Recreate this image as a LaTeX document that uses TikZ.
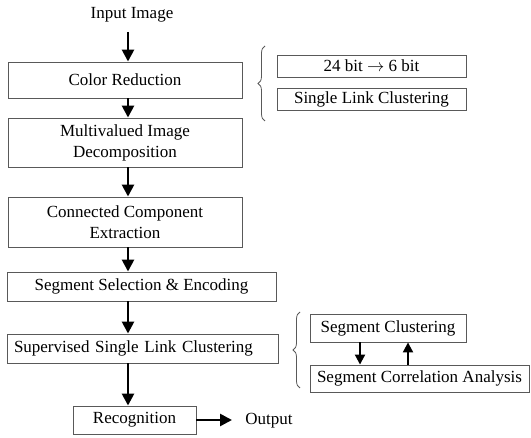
\documentclass[tikz,border=0pt]{standalone}
\usepackage{fontspec}
\setmainfont{Liberation Serif}
\usetikzlibrary{arrows.meta,decorations.pathreplacing}
\definecolor{boxgray}{gray}{0.35}
\newcommand{\fs}{\fontsize{17}{21}\selectfont}
\tikzset{
  box/.style={draw=boxgray, line width=0.9pt, inner sep=0pt, align=center, font=\fs},
  lbl/.style={inner sep=0pt, font=\fs},
  arr/.style={line width=2.6pt, -{Triangle[length=12pt,width=12pt]}},
  sarr/.style={line width=2pt, -{Triangle[length=10pt,width=10pt]}},
  brc/.style={draw=boxgray, line width=0.8pt, decorate, decoration={brace, amplitude=7pt}}
}
\begin{document}
\begin{tikzpicture}[x=1pt, y=-1pt]
\useasboundingbox (0,0) rectangle (531,438);
\node[lbl] (in) at (132,15) {Input Image};
\node[box, minimum width=234pt, minimum height=36pt] (color) at (125,80) {Color Reduction};
\node[box, minimum width=234pt, minimum height=49pt] (multi) at (125,142.5) {Multivalued Image\\Decomposition};
\node[box, minimum width=234pt, minimum height=50pt] (conn) at (125,222) {Connected Component\\Extraction};
\node[box, minimum width=269pt, minimum height=29pt] (segsel) at (141.5,286.5) {Segment Selection \& Encoding};
\node[box, minimum width=271pt, minimum height=29pt, text width=257pt, inner xsep=7pt, align=left] (superv) at (142.5,348.5) {Supervised Single Link Clustering};
\node[box, minimum width=123pt, minimum height=28pt] (recog) at (134.5,420) {Recognition};
\node[lbl] (out) at (269,421) {Output};
\node[box, minimum width=189pt, minimum height=22pt] (bit) at (371.5,66) {24 bit $\rightarrow$ 6 bit};
\node[box, minimum width=189pt, minimum height=22pt] (slc) at (371.5,99) {Single Link Clustering};
\node[box, minimum width=156pt, minimum height=28pt] (segclu) at (388,328) {Segment Clustering};
\node[box, minimum width=219pt, minimum height=27pt] (segcor) at (419.5,378.5) {Segment Correlation Analysis};
\coordinate (ax) at (128,0);
\coordinate (dn) at (360,0);
\coordinate (up) at (408,0);
\coordinate (intail) at (128,32);
\coordinate (outtip) at (232,0);
\draw[arr] (intail) -- (color.north -| ax);
\draw[arr] (color.south -| ax) -- (multi.north -| ax);
\draw[arr] (multi.south -| ax) -- (conn.north -| ax);
\draw[arr] (conn.south -| ax) -- (segsel.north -| ax);
\draw[arr] (segsel.south -| ax) -- (superv.north -| ax);
\draw[arr] (superv.south -| ax) -- (recog.north -| ax);
\draw[arr] (recog.east) -- (recog.east -| outtip);
\draw[sarr] (segclu.south -| dn) -- (segcor.north -| dn);
\draw[sarr] (segcor.north -| up) -- (segclu.south -| up);
\draw[brc] (265,121) -- (265,46);
\draw[brc] (300,388) -- (300,312);
\end{tikzpicture}
\end{document}
